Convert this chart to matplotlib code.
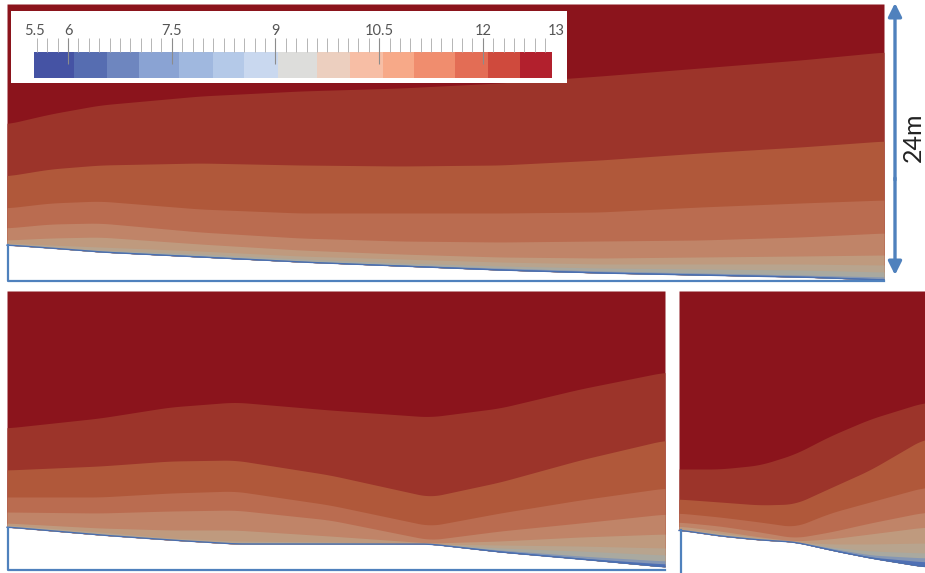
import numpy as np
import matplotlib
matplotlib.use('Agg')
import matplotlib.pyplot as plt

plt.rcParams['font.family'] = ['Lato', 'DejaVu Sans']

#colours of the contour bands, top one first
band_colors = ['#8b141c', '#9c342a', '#b0583a', '#ba6c50', '#c08468', '#bf9a7e',
               '#b8a48e', '#a9a9a0', '#8496b4', '#5070b4']
line_blue = '#4f81bd'

#panel 1: band edges as (x, y) in image pixels
top_x = [7, 50, 100, 200, 300, 400, 500, 600, 700, 800, 884]
top_edges = [
    [124, 114, 105, 96, 91, 88, 83, 76, 68, 60, 52],
    [176, 169, 165, 163, 165, 166, 165, 160, 153, 147, 141],
    [208, 203, 201, 209, 213, 213, 213, 212, 207, 203, 200],
    [228, 224, 223, 232, 238, 241, 242, 241, 240, 237, 233],
    [240, 238, 237, 244, 250, 254, 257, 258, 257, 256, 255],
    [243, 245, 247, 251, 256, 259, 262, 264, 264, 264, 265],
    [244, 247, 250, 254, 259, 263, 266, 268, 269, 270, 272],
    [245, 248, 251, 256, 261, 265, 268, 271, 273, 275, 277],
    [245, 248, 252, 256, 262, 265, 269, 272, 274, 276, 279],
]
top_floor = [245, 248, 252, 257, 262, 266, 270, 273, 275, 277, 280]

#panel 2
mid_x = [7, 100, 170, 235, 330, 430, 500, 580, 665]
mid_edges = [
    [428, 418, 407, 402, 410, 417, 408, 389, 372],
    [470, 466, 461, 460, 475, 497, 482, 460, 440],
    [497, 497, 493, 491, 505, 526, 513, 500, 488],
    [512, 513, 511, 510, 520, 540, 531, 523, 514],
    [523, 528, 530, 530, 536, 543, 541, 537, 534],
    [525, 532, 538, 541, 542, 544, 545, 546, 548],
    [526, 534, 540, 543, 543, 544, 548, 551, 555],
    [527, 535, 540, 544, 544, 544, 550, 556, 561],
    [527, 535, 540, 544, 544, 544, 551, 558, 564],
]
mid_floor = [527, 535, 540, 544, 544, 544, 552, 559, 567]

#panel 3
right_x = [679, 720, 760, 795, 830, 870, 925]
right_edges = [
    [469, 469, 465, 454, 436, 419, 402],
    [499, 502, 505, 504, 488, 470, 438],
    [513, 517, 522, 527, 513, 502, 487],
    [522, 526, 532, 538, 532, 523, 512],
    [526, 531, 537, 541, 539, 534, 527],
    [529, 533, 538, 542, 544, 544, 543],
    [530, 535, 539, 542, 547, 551, 553],
    [530, 536, 540, 542, 548, 555, 558],
    [530, 536, 540, 542, 549, 557, 562],
]
right_floor = [530, 536, 540, 542, 550, 558, 567]

#colour bar
bar_edges = [5.5, 6.09, 6.57, 7.03, 7.61, 8.09, 8.55, 9.03, 9.6, 10.08, 10.56, 11.0,
             11.6, 12.07, 12.54, 13.0]
bar_colors = ['#4553a4', '#566db1', '#6e86bf', '#8aa3d3', '#a0b8df', '#b4c9e8', '#c9d8ef',
              '#dddddb', '#eccfbf', '#f7bea5', '#f7a988', '#f08d6e', '#e36d55', '#cf4a3d',
              '#b2202d']
major_ticks = [6, 7.5, 9, 10.5, 12]
tick_labels = ['5.5', '6', '7.5', '9', '10.5', '12', '13']
label_values = [5.52, 6, 7.5, 9, 10.5, 12, 13.06]


def smooth_curve(xs, ys, xnew):
    #short moving average takes the corners off the hand read points, keeps a little kink
    y = np.interp(xnew, xs, ys)
    pad = 12
    y2 = np.concatenate([np.full(pad, y[0]), y, np.full(pad, y[-1])])
    return np.convolve(y2, np.ones(2 * pad + 1) / (2 * pad + 1), mode='valid')


def draw_panel(ax, xs, edges, floor, top):
    xnew = np.arange(xs[0], xs[-1] + 0.5, 1.0)
    low = smooth_curve(xs, floor, xnew)
    ax.fill_between(xnew, top, low, color=band_colors[0], lw=0)
    for i, e in enumerate(edges):
        y = np.minimum(smooth_curve(xs, e, xnew), low)
        ax.fill_between(xnew, y, low, color=band_colors[i + 1], lw=0)
    ax.plot(xnew, low, color='#4a6fb0', lw=1.0)


fig = plt.figure(figsize=(9.25, 5.73), dpi=100)
ax = fig.add_axes([0, 0, 1, 1])
ax.set_xlim(0, 925)
ax.set_ylim(573, 0)
ax.axis('off')

draw_panel(ax, top_x, top_edges, top_floor, 4)
draw_panel(ax, mid_x, mid_edges, mid_floor, 291)
draw_panel(ax, right_x, right_edges, right_floor, 291)

#blue brackets below the panels
ax.plot([7.5, 7.5, 884], [245, 281, 281], color=line_blue, lw=1.6)
ax.plot([7.5, 7.5, 665], [528, 570, 570], color=line_blue, lw=1.6)
ax.plot([680.5, 680.5], [530, 573], color=line_blue, lw=1.6)

#24m arrow
ax.annotate('', xy=(895, 3), xytext=(895, 180),
            arrowprops=dict(arrowstyle='-|>', color=line_blue, lw=2.4, mutation_scale=20,
                            shrinkA=0, shrinkB=0))
ax.annotate('', xy=(895, 275), xytext=(895, 178),
            arrowprops=dict(arrowstyle='-|>', color=line_blue, lw=2.4, mutation_scale=20,
                            shrinkA=0, shrinkB=0))
ax.text(913, 137, '24m', rotation=90, ha='center', va='center', fontsize=18, color='#222222')

#legend box with the colour bar
ax.fill_between([11, 567], 11, 83, color='white', lw=0, zorder=3)
cax = fig.add_axes([33.5 / 925, 1 - 78 / 573, 518.5 / 925, 26 / 573], zorder=5)
for i in range(len(bar_colors)):
    cax.axvspan(bar_edges[i], bar_edges[i + 1], color=bar_colors[i], lw=0)
cax.set_xlim(5.5, 13)
cax.set_ylim(0, 1)
cax.axis('off')
minor_ticks = np.arange(5.55, 12.95, 0.15)
cax.vlines(minor_ticks, 1.0, 1.54, color='#b5b5b5', lw=0.7, clip_on=False)
cax.vlines(major_ticks, 0.55, 1.54, color='#8c8c8c', lw=0.8, clip_on=False)
for v, t in zip(label_values, tick_labels):
    cax.text(v, 1.52, t, ha='center', va='bottom', fontsize=10.5,
             color='#555555', clip_on=False)

fig.savefig('out.png', dpi=100)
